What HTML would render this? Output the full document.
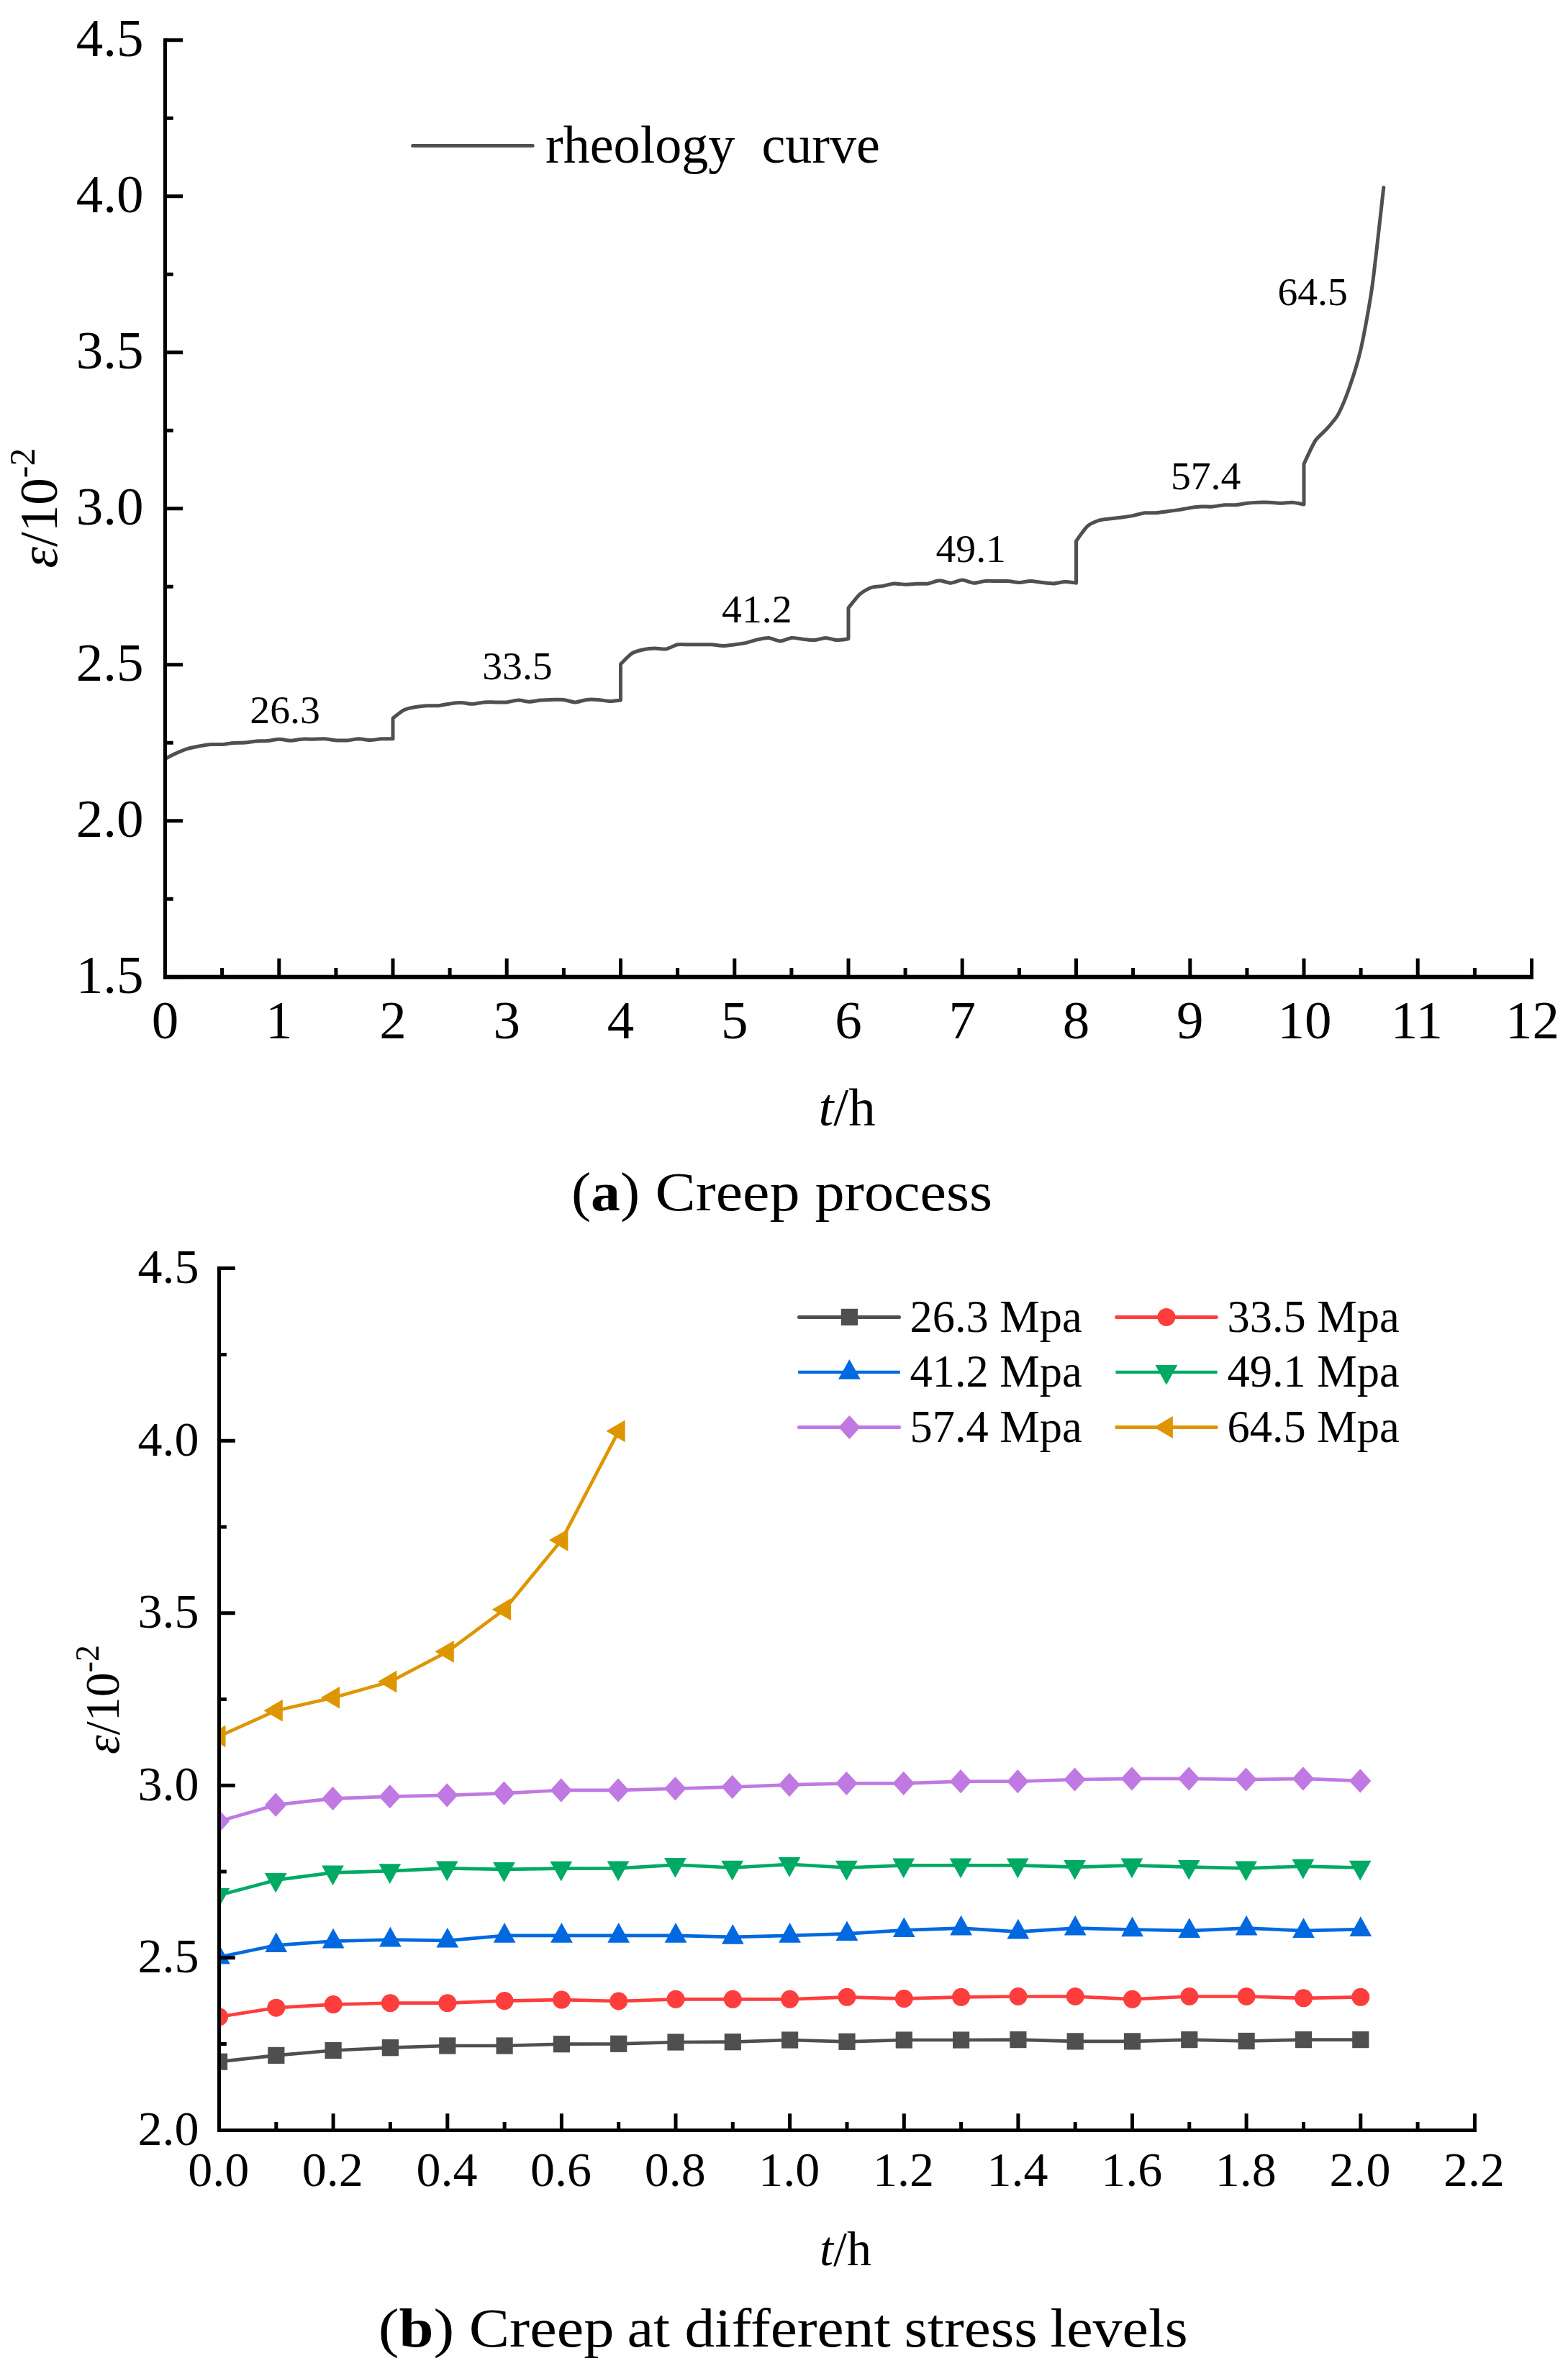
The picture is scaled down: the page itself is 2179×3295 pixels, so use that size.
<!DOCTYPE html>
<html lang="en"><head><meta charset="utf-8"><title>Creep curves</title>
<style>
html,body{margin:0;padding:0;background:#fff;}
body{width:2179px;height:3295px;overflow:hidden;}
svg{display:block;}
text{font-family:"Liberation Serif","Times New Roman",Times,serif;fill:#000;}
.cap{font-family:"Liberation Serif","Palatino Linotype",Palatino,serif;}
.i{font-style:italic;}
.b{font-weight:bold;}
</style></head><body>
<svg width="2179" height="3295" viewBox="0 0 2179 3295">
<rect x="0" y="0" width="2179" height="3295" fill="#fff"/>
<g id="chart-a">
<path d="M229.5 1054.6 C231.3 1053.6 241.6 1048.2 245.3 1046.6 C249 1044.9 257.5 1041.5 261.1 1040.3 C264.8 1039.2 273.3 1037.6 277 1036.9 C280.7 1036.2 289.1 1034.7 292.8 1034.5 C296.5 1034.2 304.9 1034.7 308.6 1034.5 C312.3 1034.2 320.8 1032.7 324.4 1032.4 C328.1 1032.1 336.6 1032.3 340.3 1032 C344 1031.7 352.4 1030.2 356.1 1029.9 C359.8 1029.7 368.2 1029.9 371.9 1029.6 C375.6 1029.3 384.1 1027.2 387.8 1027.2 C391.4 1027.1 399.9 1029.3 403.6 1029.3 C407.3 1029.3 415.7 1027.4 419.4 1027.2 C423.1 1026.9 431.5 1027.2 435.2 1027.2 C438.9 1027.1 447.4 1026.6 451.1 1026.8 C454.7 1027 463.2 1028.7 466.9 1028.9 C470.6 1029.1 479 1029.1 482.7 1028.9 C486.4 1028.7 494.8 1026.9 498.5 1026.8 C502.2 1026.8 510.7 1028.6 514.4 1028.6 C518 1028.6 526.5 1027 530.2 1026.8 C533.9 1026.6 544.2 1026.8 546 1026.8 L546 998.1 C547.8 996.7 558.1 988.4 561.8 986.6 C565.5 984.8 574 983.1 577.7 982.5 C581.3 981.8 589.8 980.9 593.5 980.7 C597.2 980.5 605.6 981 609.3 980.7 C613 980.4 621.4 978.4 625.1 978 C628.8 977.5 637.3 976.5 641 976.6 C644.6 976.6 653.1 978.4 656.8 978.3 C660.5 978.2 668.9 976.2 672.6 975.9 C676.3 975.6 684.7 975.9 688.4 975.9 C692.1 975.9 700.6 976.2 704.2 975.9 C707.9 975.5 716.4 973.2 720.1 973.1 C723.8 973 732.2 975.2 735.9 975.2 C739.6 975.2 748 973.4 751.7 973.1 C755.4 972.8 763.9 972.5 767.6 972.4 C771.2 972.3 779.7 972 783.4 972.4 C787.1 972.8 795.5 975.9 799.2 975.9 C802.9 975.9 811.3 972.8 815 972.4 C818.7 972 827.2 972.2 830.9 972.4 C834.5 972.6 843 974.4 846.7 974.5 C850.4 974.6 860.7 973.3 862.5 973.1 L862.5 922.8 C864.3 921.1 874.6 910.3 878.3 907.9 C882 905.6 890.5 903.5 894.1 902.7 C897.8 901.9 906.3 901.1 910 901 C913.7 900.9 922.1 902.6 925.8 902 C929.5 901.4 937.9 896.5 941.6 895.8 C945.3 895.1 953.8 895.8 957.4 895.8 C961.1 895.8 969.6 895.8 973.3 895.8 C977 895.8 985.4 895.6 989.1 895.8 C992.8 896 1001.2 897.5 1004.9 897.5 C1008.6 897.5 1017.1 896.3 1020.8 895.8 C1024.4 895.3 1032.9 894.2 1036.6 893.4 C1040.3 892.6 1048.7 889.7 1052.4 888.9 C1056.1 888.1 1064.5 886.2 1068.2 886.4 C1071.9 886.7 1080.4 890.9 1084.1 890.9 C1087.7 890.9 1096.2 886.8 1099.9 886.4 C1103.6 886.1 1112 887.8 1115.7 888.2 C1119.4 888.5 1127.8 889.8 1131.5 889.6 C1135.2 889.4 1143.7 886.4 1147.3 886.4 C1151 886.4 1159.5 889.4 1163.2 889.6 C1166.9 889.7 1177.2 888 1179 887.8 L1179 844.9 C1180.8 842.7 1191.1 829.1 1194.8 825.8 C1198.5 822.5 1207 817.8 1210.7 816.5 C1214.3 815.1 1222.8 815 1226.5 814.4 C1230.2 813.7 1238.6 811.2 1242.3 810.9 C1246 810.7 1254.4 812.3 1258.1 812.3 C1261.8 812.3 1270.3 811.4 1274 811.3 C1277.6 811.1 1286.1 811.4 1289.8 810.9 C1293.5 810.4 1301.9 806.8 1305.6 806.8 C1309.3 806.7 1317.7 810.3 1321.4 810.2 C1325.1 810.1 1333.6 806.1 1337.2 806.1 C1340.9 806.1 1349.4 810.1 1353.1 810.2 C1356.8 810.4 1365.2 807.8 1368.9 807.5 C1372.6 807.1 1381 807.5 1384.7 807.5 C1388.4 807.5 1396.9 807.2 1400.5 807.5 C1404.2 807.7 1412.7 809.5 1416.4 809.5 C1420.1 809.5 1428.5 807.5 1432.2 807.5 C1435.9 807.5 1444.3 809.1 1448 809.5 C1451.7 809.9 1460.2 811 1463.8 810.9 C1467.5 810.8 1476 808.6 1479.7 808.5 C1483.4 808.4 1493.7 810 1495.5 810.2 L1495.5 751.9 C1497.3 749.5 1507.6 734.5 1511.3 731.2 C1515 727.8 1523.5 724.4 1527.1 723.2 C1530.8 722 1539.3 721.2 1543 720.8 C1546.7 720.3 1555.1 719.5 1558.8 719 C1562.5 718.5 1570.9 717.3 1574.6 716.6 C1578.3 715.9 1586.8 713.2 1590.5 712.8 C1594.1 712.3 1602.6 713 1606.3 712.8 C1610 712.5 1618.4 711.2 1622.1 710.7 C1625.8 710.2 1634.2 709.2 1637.9 708.6 C1641.6 708.1 1650.1 706.4 1653.8 705.8 C1657.4 705.3 1665.9 704.3 1669.6 704.1 C1673.3 703.9 1681.7 704.4 1685.4 704.1 C1689.1 703.8 1697.5 702 1701.2 701.7 C1704.9 701.4 1713.4 702 1717.1 701.7 C1720.7 701.4 1729.2 699.7 1732.9 699.3 C1736.6 698.9 1745 698.3 1748.7 698.2 C1752.4 698.1 1760.8 698.1 1764.5 698.2 C1768.2 698.3 1776.7 699.3 1780.4 699.3 C1784 699.3 1792.5 698 1796.2 698.2 C1799.9 698.4 1810.2 700.7 1812 701 L1812 644.7 C1813.8 640.9 1824.1 618.1 1827.8 612.5 C1831.5 606.8 1840 600.4 1843.6 596.2 C1847.3 591.9 1855.8 582.8 1859.5 576.1 C1863.2 569.3 1871.6 548.9 1875.3 538.3 C1879 527.7 1887.4 501.6 1891.1 485.3 C1894.8 468.9 1903.3 424.1 1906.9 397.9 C1910.6 371.7 1920.9 276.6 1922.8 260.6" fill="none" stroke="#505050" stroke-width="5" stroke-linejoin="round" stroke-linecap="round"/>
<path d="M229.5 53.2V1360.8" stroke="#000" stroke-width="5.1" fill="none"/>
<path d="M226.9 1357.8H2131" stroke="#000" stroke-width="6" fill="none"/>
<g stroke="#000" stroke-width="5" fill="none">
<path d="M229.5 1357.8h24.5M229.5 1249.3h11.2M229.5 1140.8h24.5M229.5 1032.3h11.2M229.5 923.8h24.5M229.5 815.3h11.2M229.5 706.8h24.5M229.5 598.3h11.2M229.5 489.8h24.5M229.5 381.3h11.2M229.5 272.8h24.5M229.5 164.3h11.2M229.5 55.8h24.5M229.5 1357.8v-25.7M308.6 1357.8v-12.8M387.8 1357.8v-25.7M466.9 1357.8v-12.8M546 1357.8v-25.7M625.1 1357.8v-12.8M704.2 1357.8v-25.7M783.4 1357.8v-12.8M862.5 1357.8v-25.7M941.6 1357.8v-12.8M1020.8 1357.8v-25.7M1099.9 1357.8v-12.8M1179 1357.8v-25.7M1258.1 1357.8v-12.8M1337.2 1357.8v-25.7M1416.4 1357.8v-12.8M1495.5 1357.8v-25.7M1574.6 1357.8v-12.8M1653.8 1357.8v-25.7M1732.9 1357.8v-12.8M1812 1357.8v-25.7M1891.1 1357.8v-12.8M1970.2 1357.8v-25.7M2049.4 1357.8v-12.8M2128.5 1357.8v-25.7"/>
</g>
<g font-size="75" text-anchor="end">
<text x="199.6" y="1380.4">1.5</text>
<text x="199.6" y="1163.4">2.0</text>
<text x="199.6" y="946.4">2.5</text>
<text x="199.6" y="729.4">3.0</text>
<text x="199.6" y="512.4">3.5</text>
<text x="199.6" y="295.4">4.0</text>
<text x="199.6" y="78.3">4.5</text>
</g>
<g font-size="75" text-anchor="middle">
<text x="229.5" y="1443">0</text>
<text x="387.8" y="1443">1</text>
<text x="546" y="1443">2</text>
<text x="704.2" y="1443">3</text>
<text x="862.5" y="1443">4</text>
<text x="1020.8" y="1443">5</text>
<text x="1179" y="1443">6</text>
<text x="1337.2" y="1443">7</text>
<text x="1495.5" y="1443">8</text>
<text x="1653.8" y="1443">9</text>
<text x="1813" y="1443">10</text>
<text x="1968.8" y="1443">11</text>
<text x="2129.5" y="1443">12</text>
</g>
<text x="1177.1" y="1563.8" font-size="75" text-anchor="middle"><tspan class="i">t</tspan>/h</text>
<text transform="translate(78.7 706) rotate(-90)" font-size="75" text-anchor="middle"><tspan class="i">ε</tspan>/10<tspan font-size="50" dy="-30.7">-2</tspan></text>
<path d="M573.6 202.4H740.2" stroke="#505050" stroke-width="5" stroke-linecap="round" fill="none"/>
<text x="758" y="226.4" font-size="74.1" xml:space="preserve" style="white-space:pre">rheology  curve</text>
<g font-size="55.7">
<text x="347.3" y="1004.6">26.3</text>
<text x="670.2" y="944.4">33.5</text>
<text x="1003.1" y="865.3">41.2</text>
<text x="1300.5" y="780.5">49.1</text>
<text x="1626.9" y="679.6">57.4</text>
<text x="1775.4" y="423.8">64.5</text>
</g>
</g>
<text class="cap" x="793.9" y="1681.5" font-size="76" textLength="95.3" lengthAdjust="spacingAndGlyphs">(<tspan class="b">a</tspan>)</text>
<text class="cap" x="910.6" y="1681.5" font-size="76" textLength="200.9" lengthAdjust="spacingAndGlyphs">Creep</text>
<text class="cap" x="1132.5" y="1681.5" font-size="76" textLength="246.5" lengthAdjust="spacingAndGlyphs">process</text>
<g id="chart-b">
<defs><clipPath id="clipb"><rect x="304.5" y="1762.6" width="1744.9" height="1197.8"/></clipPath></defs>
<g clip-path="url(#clipb)">
<path d="M304.5 2865.2 L383.8 2856.4 L463.1 2849.5 L542.4 2845.7 L621.8 2843 L701.1 2843 L780.4 2840.7 L859.7 2840.3 L939 2838 L1018.3 2837.7 L1097.6 2835 L1177 2837.3 L1256.3 2835 L1335.6 2835 L1414.9 2834.6 L1494.2 2836.9 L1573.5 2836.9 L1652.8 2834.6 L1732.1 2836.5 L1811.5 2834.6 L1890.8 2834.6" fill="none" stroke="#4f4f4f" stroke-width="4.7" stroke-linejoin="round"/>
<rect x="292.9" y="2853.6" width="23.2" height="23.2" fill="#4f4f4f"/><rect x="372.2" y="2844.8" width="23.2" height="23.2" fill="#4f4f4f"/><rect x="451.5" y="2837.9" width="23.2" height="23.2" fill="#4f4f4f"/><rect x="530.8" y="2834.1" width="23.2" height="23.2" fill="#4f4f4f"/><rect x="610.2" y="2831.4" width="23.2" height="23.2" fill="#4f4f4f"/><rect x="689.5" y="2831.4" width="23.2" height="23.2" fill="#4f4f4f"/><rect x="768.8" y="2829.1" width="23.2" height="23.2" fill="#4f4f4f"/><rect x="848.1" y="2828.7" width="23.2" height="23.2" fill="#4f4f4f"/><rect x="927.4" y="2826.4" width="23.2" height="23.2" fill="#4f4f4f"/><rect x="1006.7" y="2826.1" width="23.2" height="23.2" fill="#4f4f4f"/><rect x="1086" y="2823.4" width="23.2" height="23.2" fill="#4f4f4f"/><rect x="1165.4" y="2825.7" width="23.2" height="23.2" fill="#4f4f4f"/><rect x="1244.7" y="2823.4" width="23.2" height="23.2" fill="#4f4f4f"/><rect x="1324" y="2823.4" width="23.2" height="23.2" fill="#4f4f4f"/><rect x="1403.3" y="2823" width="23.2" height="23.2" fill="#4f4f4f"/><rect x="1482.6" y="2825.3" width="23.2" height="23.2" fill="#4f4f4f"/><rect x="1561.9" y="2825.3" width="23.2" height="23.2" fill="#4f4f4f"/><rect x="1641.2" y="2823" width="23.2" height="23.2" fill="#4f4f4f"/><rect x="1720.5" y="2824.9" width="23.2" height="23.2" fill="#4f4f4f"/><rect x="1799.9" y="2823" width="23.2" height="23.2" fill="#4f4f4f"/><rect x="1879.2" y="2823" width="23.2" height="23.2" fill="#4f4f4f"/>
<path d="M304.5 2802.8 L383.8 2790.2 L463.1 2785.6 L542.4 2783.7 L621.8 2783.7 L701.1 2780.6 L780.4 2779.1 L859.7 2781 L939 2778.3 L1018.3 2778.3 L1097.6 2778.3 L1177 2775.3 L1256.3 2777.6 L1335.6 2775.3 L1414.9 2774.5 L1494.2 2774.5 L1573.5 2778.3 L1652.8 2774.5 L1732.1 2774.5 L1811.5 2776.8 L1890.8 2775.3" fill="none" stroke="#fe3d3d" stroke-width="4.7" stroke-linejoin="round"/>
<circle cx="304.5" cy="2802.8" r="12.5" fill="#fe3d3d"/><circle cx="383.8" cy="2790.2" r="12.5" fill="#fe3d3d"/><circle cx="463.1" cy="2785.6" r="12.5" fill="#fe3d3d"/><circle cx="542.4" cy="2783.7" r="12.5" fill="#fe3d3d"/><circle cx="621.8" cy="2783.7" r="12.5" fill="#fe3d3d"/><circle cx="701.1" cy="2780.6" r="12.5" fill="#fe3d3d"/><circle cx="780.4" cy="2779.1" r="12.5" fill="#fe3d3d"/><circle cx="859.7" cy="2781" r="12.5" fill="#fe3d3d"/><circle cx="939" cy="2778.3" r="12.5" fill="#fe3d3d"/><circle cx="1018.3" cy="2778.3" r="12.5" fill="#fe3d3d"/><circle cx="1097.6" cy="2778.3" r="12.5" fill="#fe3d3d"/><circle cx="1177" cy="2775.3" r="12.5" fill="#fe3d3d"/><circle cx="1256.3" cy="2777.6" r="12.5" fill="#fe3d3d"/><circle cx="1335.6" cy="2775.3" r="12.5" fill="#fe3d3d"/><circle cx="1414.9" cy="2774.5" r="12.5" fill="#fe3d3d"/><circle cx="1494.2" cy="2774.5" r="12.5" fill="#fe3d3d"/><circle cx="1573.5" cy="2778.3" r="12.5" fill="#fe3d3d"/><circle cx="1652.8" cy="2774.5" r="12.5" fill="#fe3d3d"/><circle cx="1732.1" cy="2774.5" r="12.5" fill="#fe3d3d"/><circle cx="1811.5" cy="2776.8" r="12.5" fill="#fe3d3d"/><circle cx="1890.8" cy="2775.3" r="12.5" fill="#fe3d3d"/>
<path d="M304.5 2719.8 L383.8 2703.3 L463.1 2697.6 L542.4 2695.7 L621.8 2696.8 L701.1 2689.9 L780.4 2689.9 L859.7 2689.9 L939 2689.9 L1018.3 2691.9 L1097.6 2689.9 L1177 2687.3 L1256.3 2682.3 L1335.6 2679.6 L1414.9 2684.6 L1494.2 2679.6 L1573.5 2681.5 L1652.8 2683.1 L1732.1 2679.6 L1811.5 2683.1 L1890.8 2681.1" fill="none" stroke="#0069e0" stroke-width="4.7" stroke-linejoin="round"/>
<path d="M304.5 2701.9L319.9 2729.6L289.1 2729.6Z" fill="#0069e0"/><path d="M383.8 2685.4L399.2 2713.1L368.4 2713.1Z" fill="#0069e0"/><path d="M463.1 2679.7L478.5 2707.4L447.7 2707.4Z" fill="#0069e0"/><path d="M542.4 2677.8L557.8 2705.5L527 2705.5Z" fill="#0069e0"/><path d="M621.8 2678.9L637.2 2706.6L606.4 2706.6Z" fill="#0069e0"/><path d="M701.1 2672L716.5 2699.7L685.7 2699.7Z" fill="#0069e0"/><path d="M780.4 2672L795.8 2699.7L765 2699.7Z" fill="#0069e0"/><path d="M859.7 2672L875.1 2699.7L844.3 2699.7Z" fill="#0069e0"/><path d="M939 2672L954.4 2699.7L923.6 2699.7Z" fill="#0069e0"/><path d="M1018.3 2674L1033.7 2701.7L1002.9 2701.7Z" fill="#0069e0"/><path d="M1097.6 2672L1113 2699.7L1082.2 2699.7Z" fill="#0069e0"/><path d="M1177 2669.4L1192.4 2697.1L1161.5 2697.1Z" fill="#0069e0"/><path d="M1256.3 2664.4L1271.7 2692.1L1240.9 2692.1Z" fill="#0069e0"/><path d="M1335.6 2661.7L1351 2689.4L1320.2 2689.4Z" fill="#0069e0"/><path d="M1414.9 2666.7L1430.3 2694.4L1399.5 2694.4Z" fill="#0069e0"/><path d="M1494.2 2661.7L1509.6 2689.4L1478.8 2689.4Z" fill="#0069e0"/><path d="M1573.5 2663.6L1588.9 2691.3L1558.1 2691.3Z" fill="#0069e0"/><path d="M1652.8 2665.2L1668.2 2692.9L1637.4 2692.9Z" fill="#0069e0"/><path d="M1732.1 2661.7L1747.5 2689.4L1716.7 2689.4Z" fill="#0069e0"/><path d="M1811.5 2665.2L1826.9 2692.9L1796.1 2692.9Z" fill="#0069e0"/><path d="M1890.8 2663.2L1906.2 2690.9L1875.4 2690.9Z" fill="#0069e0"/>
<path d="M304.5 2633.8 L383.8 2612.7 L463.1 2602.4 L542.4 2600.1 L621.8 2596.3 L701.1 2597.8 L780.4 2596.6 L859.7 2596.3 L939 2591.7 L1018.3 2595.5 L1097.6 2590.9 L1177 2595.5 L1256.3 2592.4 L1335.6 2592.4 L1414.9 2592.4 L1494.2 2594.7 L1573.5 2592.4 L1652.8 2594.7 L1732.1 2596.3 L1811.5 2593.6 L1890.8 2595.5" fill="none" stroke="#00aa64" stroke-width="4.7" stroke-linejoin="round"/>
<path d="M303.9 2651.7L319.3 2624L288.5 2624Z" fill="#00aa64"/><path d="M383.2 2630.6L398.6 2602.9L367.8 2602.9Z" fill="#00aa64"/><path d="M462.5 2620.3L477.9 2592.6L447.1 2592.6Z" fill="#00aa64"/><path d="M541.8 2618L557.2 2590.3L526.4 2590.3Z" fill="#00aa64"/><path d="M621.2 2614.2L636.6 2586.5L605.8 2586.5Z" fill="#00aa64"/><path d="M700.5 2615.7L715.9 2588L685.1 2588Z" fill="#00aa64"/><path d="M779.8 2614.5L795.2 2586.8L764.4 2586.8Z" fill="#00aa64"/><path d="M859.1 2614.2L874.5 2586.5L843.7 2586.5Z" fill="#00aa64"/><path d="M938.4 2609.6L953.8 2581.9L923 2581.9Z" fill="#00aa64"/><path d="M1017.7 2613.4L1033.1 2585.7L1002.3 2585.7Z" fill="#00aa64"/><path d="M1097 2608.8L1112.4 2581.1L1081.6 2581.1Z" fill="#00aa64"/><path d="M1176.4 2613.4L1191.8 2585.7L1161 2585.7Z" fill="#00aa64"/><path d="M1255.7 2610.3L1271.1 2582.6L1240.3 2582.6Z" fill="#00aa64"/><path d="M1335 2610.3L1350.4 2582.6L1319.6 2582.6Z" fill="#00aa64"/><path d="M1414.3 2610.3L1429.7 2582.6L1398.9 2582.6Z" fill="#00aa64"/><path d="M1493.6 2612.6L1509 2584.9L1478.2 2584.9Z" fill="#00aa64"/><path d="M1572.9 2610.3L1588.3 2582.6L1557.5 2582.6Z" fill="#00aa64"/><path d="M1652.2 2612.6L1667.6 2584.9L1636.8 2584.9Z" fill="#00aa64"/><path d="M1731.5 2614.2L1746.9 2586.5L1716.1 2586.5Z" fill="#00aa64"/><path d="M1810.9 2611.5L1826.3 2583.8L1795.5 2583.8Z" fill="#00aa64"/><path d="M1890.2 2613.4L1905.6 2585.7L1874.8 2585.7Z" fill="#00aa64"/>
<path d="M304.5 2531.1 L383.8 2508.2 L463.1 2499.4 L542.4 2496.7 L621.8 2494.8 L701.1 2492.1 L780.4 2487.9 L859.7 2487.9 L939 2485.6 L1018.3 2483.3 L1097.6 2480.3 L1177 2478.3 L1256.3 2478.3 L1335.6 2475.7 L1414.9 2475.7 L1494.2 2473 L1573.5 2471.8 L1652.8 2471.8 L1732.1 2473 L1811.5 2471.8 L1890.8 2474.9" fill="none" stroke="#c079e2" stroke-width="4.7" stroke-linejoin="round"/>
<path d="M303.9 2514.5L319.1 2531.1L303.9 2547.7L288.7 2531.1Z" fill="#c079e2"/><path d="M383.2 2491.6L398.4 2508.2L383.2 2524.8L368 2508.2Z" fill="#c079e2"/><path d="M462.5 2482.8L477.7 2499.4L462.5 2516L447.3 2499.4Z" fill="#c079e2"/><path d="M541.8 2480.1L557 2496.7L541.8 2513.3L526.6 2496.7Z" fill="#c079e2"/><path d="M621.2 2478.2L636.4 2494.8L621.2 2511.4L606 2494.8Z" fill="#c079e2"/><path d="M700.5 2475.5L715.7 2492.1L700.5 2508.7L685.3 2492.1Z" fill="#c079e2"/><path d="M779.8 2471.3L795 2487.9L779.8 2504.5L764.6 2487.9Z" fill="#c079e2"/><path d="M859.1 2471.3L874.3 2487.9L859.1 2504.5L843.9 2487.9Z" fill="#c079e2"/><path d="M938.4 2469L953.6 2485.6L938.4 2502.2L923.2 2485.6Z" fill="#c079e2"/><path d="M1017.7 2466.7L1032.9 2483.3L1017.7 2499.9L1002.5 2483.3Z" fill="#c079e2"/><path d="M1097 2463.7L1112.2 2480.3L1097 2496.9L1081.8 2480.3Z" fill="#c079e2"/><path d="M1176.4 2461.7L1191.6 2478.3L1176.4 2494.9L1161.2 2478.3Z" fill="#c079e2"/><path d="M1255.7 2461.7L1270.9 2478.3L1255.7 2494.9L1240.5 2478.3Z" fill="#c079e2"/><path d="M1335 2459.1L1350.2 2475.7L1335 2492.3L1319.8 2475.7Z" fill="#c079e2"/><path d="M1414.3 2459.1L1429.5 2475.7L1414.3 2492.3L1399.1 2475.7Z" fill="#c079e2"/><path d="M1493.6 2456.4L1508.8 2473L1493.6 2489.6L1478.4 2473Z" fill="#c079e2"/><path d="M1572.9 2455.2L1588.1 2471.8L1572.9 2488.4L1557.7 2471.8Z" fill="#c079e2"/><path d="M1652.2 2455.2L1667.4 2471.8L1652.2 2488.4L1637 2471.8Z" fill="#c079e2"/><path d="M1731.5 2456.4L1746.7 2473L1731.5 2489.6L1716.3 2473Z" fill="#c079e2"/><path d="M1810.9 2455.2L1826.1 2471.8L1810.9 2488.4L1795.7 2471.8Z" fill="#c079e2"/><path d="M1890.2 2458.3L1905.4 2474.9L1890.2 2491.5L1875 2474.9Z" fill="#c079e2"/>
<path d="M304.5 2412.8 L383.8 2377.2 L463.1 2359.2 L542.4 2337 L621.8 2295.3 L701.1 2236.7 L780.4 2140.3 L859.7 1988.8" fill="none" stroke="#de9600" stroke-width="4.7" stroke-linejoin="round"/>
<path d="M287.1 2412.8L313.5 2397.4L313.5 2428.2Z" fill="#de9600"/><path d="M366.4 2377.2L392.8 2361.8L392.8 2392.6Z" fill="#de9600"/><path d="M445.7 2359.2L472.1 2343.8L472.1 2374.6Z" fill="#de9600"/><path d="M525 2337L551.4 2321.6L551.4 2352.4Z" fill="#de9600"/><path d="M604.4 2295.3L630.8 2279.9L630.8 2310.7Z" fill="#de9600"/><path d="M683.7 2236.7L710.1 2221.3L710.1 2252.1Z" fill="#de9600"/><path d="M763 2140.3L789.4 2124.9L789.4 2155.7Z" fill="#de9600"/><path d="M842.3 1988.8L868.7 1973.4L868.7 2004.2Z" fill="#de9600"/>
</g>
<g stroke="#000" stroke-width="5" fill="none">
<path d="M304.5 1760.1 V2960.4 H2051.9"/>
<path d="M304.5 2960.4h22.3M304.5 2840.6h10.3M304.5 2720.8h22.3M304.5 2601.1h10.3M304.5 2481.3h22.3M304.5 2361.5h10.3M304.5 2241.7h22.3M304.5 2121.9h10.3M304.5 2002.2h22.3M304.5 1882.4h10.3M304.5 1762.6h22.3M304.5 2960.4v-23.2M383.8 2960.4v-11.4M463.1 2960.4v-23.2M542.4 2960.4v-11.4M621.8 2960.4v-23.2M701.1 2960.4v-11.4M780.4 2960.4v-23.2M859.7 2960.4v-11.4M939 2960.4v-23.2M1018.3 2960.4v-11.4M1097.6 2960.4v-23.2M1177 2960.4v-11.4M1256.3 2960.4v-23.2M1335.6 2960.4v-11.4M1414.9 2960.4v-23.2M1494.2 2960.4v-11.4M1573.5 2960.4v-23.2M1652.8 2960.4v-11.4M1732.1 2960.4v-23.2M1811.5 2960.4v-11.4M1890.8 2960.4v-23.2M1970.1 2960.4v-11.4M2049.4 2960.4v-23.2"/>
</g>
<g font-size="68" text-anchor="end">
<text x="276.5" y="2981">2.0</text>
<text x="276.5" y="2741.4">2.5</text>
<text x="276.5" y="2501.9">3.0</text>
<text x="276.5" y="2262.3">3.5</text>
<text x="276.5" y="2022.8">4.0</text>
<text x="276.5" y="1783.2">4.5</text>
</g>
<g font-size="68" text-anchor="middle">
<text x="303.7" y="3038">0.0</text>
<text x="462.3" y="3038">0.2</text>
<text x="621" y="3038">0.4</text>
<text x="779.6" y="3038">0.6</text>
<text x="938.2" y="3038">0.8</text>
<text x="1096.8" y="3038">1.0</text>
<text x="1255.5" y="3038">1.2</text>
<text x="1414.1" y="3038">1.4</text>
<text x="1572.7" y="3038">1.6</text>
<text x="1731.3" y="3038">1.8</text>
<text x="1890" y="3038">2.0</text>
<text x="2048.6" y="3038">2.2</text>
</g>
<text x="1175" y="3148.3" font-size="68" text-anchor="middle"><tspan class="i">t</tspan>/h</text>
<text transform="translate(165.2 2362) rotate(-90)" font-size="68" text-anchor="middle"><tspan class="i">ε</tspan>/10<tspan font-size="46" dy="-28">-2</tspan></text>
<path d="M1110.5 1830.4H1249.5" stroke="#4f4f4f" stroke-width="5" stroke-linecap="round" fill="none"/>
<rect x="1168.8" y="1818.8" width="23.2" height="23.2" fill="#4f4f4f"/>
<text x="1264.5" y="1850.9" font-size="62.4">26.3 Mpa</text>
<path d="M1551.7 1830.4H1690.3" stroke="#fe3d3d" stroke-width="5" stroke-linecap="round" fill="none"/>
<circle cx="1620.9" cy="1830.4" r="12.5" fill="#fe3d3d"/>
<text x="1705.5" y="1850.9" font-size="62.4">33.5 Mpa</text>
<path d="M1109.2 1906.9H1250.8" stroke="#0069e0" stroke-width="4.3" fill="none"/>
<path d="M1180.4 1889L1195.8 1916.7L1165 1916.7Z" fill="#0069e0"/>
<text x="1264.5" y="1927.2" font-size="62.4">41.2 Mpa</text>
<path d="M1550.4 1906.9H1691.6" stroke="#00aa64" stroke-width="4.3" fill="none"/>
<path d="M1620.9 1924.8L1636.3 1897.1L1605.5 1897.1Z" fill="#00aa64"/>
<text x="1705.5" y="1927.2" font-size="62.4">49.1 Mpa</text>
<path d="M1110.5 1983.5H1249.5" stroke="#c079e2" stroke-width="5" stroke-linecap="round" fill="none"/>
<path d="M1180.4 1966.9L1195.6 1983.5L1180.4 2000.1L1165.2 1983.5Z" fill="#c079e2"/>
<text x="1264.5" y="2003.5" font-size="62.4">57.4 Mpa</text>
<path d="M1551.7 1983.5H1690.3" stroke="#de9600" stroke-width="5" stroke-linecap="round" fill="none"/>
<path d="M1603.5 1983.5L1629.9 1968.1L1629.9 1998.9Z" fill="#de9600"/>
<text x="1705.5" y="2003.5" font-size="62.4">64.5 Mpa</text>
</g>
<text class="cap" x="525.7" y="3260.6" font-size="76" textLength="105.5" lengthAdjust="spacingAndGlyphs">(<tspan class="b">b</tspan>)</text>
<text class="cap" x="651.8" y="3260.6" font-size="76" textLength="201.6" lengthAdjust="spacingAndGlyphs">Creep</text>
<text class="cap" x="871.4" y="3260.6" font-size="76" textLength="59.7" lengthAdjust="spacingAndGlyphs">at</text>
<text class="cap" x="951.6" y="3260.6" font-size="76" textLength="286.1" lengthAdjust="spacingAndGlyphs">different</text>
<text class="cap" x="1256.4" y="3260.6" font-size="76" textLength="185.2" lengthAdjust="spacingAndGlyphs">stress</text>
<text class="cap" x="1459.4" y="3260.6" font-size="76" textLength="191.2" lengthAdjust="spacingAndGlyphs">levels</text>
</svg>
</body></html>
